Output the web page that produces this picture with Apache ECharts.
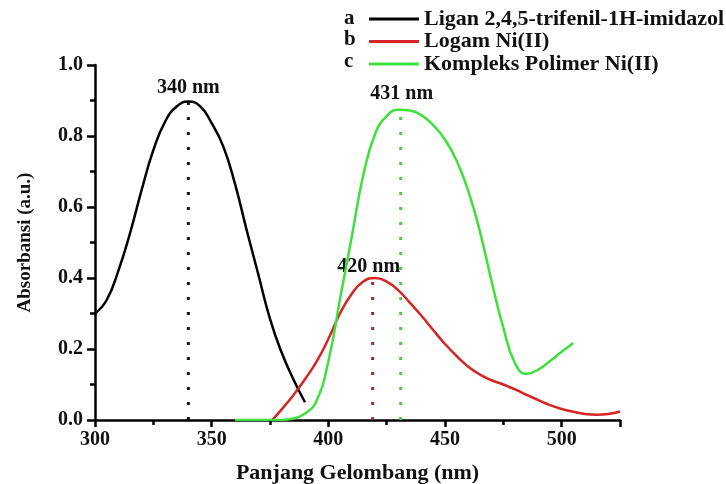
<!DOCTYPE html>
<html>
<head>
<meta charset="utf-8">
<script src="https://cdn.jsdelivr.net/npm/echarts@6/dist/echarts.min.js"></script>
<style>
  html, body { margin: 0; padding: 0; background: #fff; }
  #chart { width: 726px; height: 484px; }
</style>
</head>
<body>
<div id="chart"></div>
<script>
// wavelength (nm) / absorbance
var liganX = [300, 305, 310, 315, 320, 325, 330, 335, 340, 345, 350, 355, 360, 365, 370, 375, 380, 385, 390];
var liganY = [0.30, 0.338, 0.42, 0.526, 0.648, 0.76, 0.84, 0.883, 0.897, 0.884, 0.836, 0.77, 0.665, 0.535, 0.41, 0.285, 0.19, 0.115, 0.05];

var logamX = [376, 380, 385, 390, 395, 400, 405, 410, 415, 420, 425, 430, 435, 440, 445, 450, 455, 460, 465, 470, 475, 480, 485, 490, 495, 500, 505, 510, 515, 520, 525];
var logamY = [0, 0.03, 0.07, 0.115, 0.165, 0.228, 0.30, 0.355, 0.39, 0.40, 0.39, 0.365, 0.33, 0.293, 0.253, 0.214, 0.18, 0.15, 0.128, 0.112, 0.10, 0.086, 0.071, 0.056, 0.042, 0.031, 0.023, 0.017, 0.015, 0.017, 0.024];

var kompleksX = [360, 370, 380, 385, 390, 395, 400, 405, 410, 415, 420, 425, 430, 435, 440, 445, 450, 455, 460, 465, 470, 475, 480, 485, 490, 495, 500, 505];
var kompleksY = [0, 0, 0, 0.004, 0.018, 0.055, 0.165, 0.34, 0.515, 0.69, 0.805, 0.856, 0.874, 0.872, 0.858, 0.83, 0.79, 0.73, 0.645, 0.53, 0.39, 0.26, 0.16, 0.13, 0.142, 0.166, 0.192, 0.217];

// peak markers: wavelength, absorbance, label
var peakX = [340, 419, 431];
var peakY = [0.897, 0.40, 0.875];
var peakText = ['340 nm', '420 nm', '431 nm'];

var names = ['Ligan 2,4,5-trifenil-1H-imidazol', 'Logam Ni(II)', 'Kompleks Polimer Ni(II)'];
var colors = ['#000000', '#d42424', '#3ee03e'];
var dotColors = ['#111111', '#a82838', '#4cc84c'];
var letters = ['a', 'b', 'c'];

function pairs(xs, ys) {
  return xs.map(function (x, i) { return [x, ys[i]]; });
}

var serif = '"Liberation Serif", "DejaVu Serif", serif';
var chart = echarts.init(document.getElementById('chart'));

var curves = [pairs(liganX, liganY), pairs(logamX, logamY), pairs(kompleksX, kompleksY)];
var series = [];
curves.forEach(function (d, i) {
  series.push({
    name: names[i],
    type: 'line',
    data: d,
    smooth: 0.5,
    showSymbol: false,
    lineStyle: { color: colors[i], width: 2.5 },
    itemStyle: { color: colors[i] },
    z: 3
  });
});
var labelDist = [3, 1, 5];
var labelShift = [0, -4, 1];
peakX.forEach(function (x, i) {
  series.push({
    type: 'line',
    data: [[x, 0], {
      value: [x, peakY[i]],
      label: {
        show: true,
        position: 'top',
        distance: labelDist[i],
        offset: [labelShift[i], 0],
        formatter: peakText[i],
        color: '#111',
        fontFamily: serif,
        fontWeight: 'bold',
        fontSize: 20
      }
    }],
    showSymbol: true,
    symbol: 'circle',
    symbolSize: 1,
    itemStyle: { color: 'rgba(0,0,0,0)' },
    lineStyle: { color: dotColors[i], width: 3, type: [3, 12], dashOffset: 0 },
    silent: true,
    z: 2
  });
});

var option = {
  animation: false,
  grid: { left: 95, right: 106, top: 65, bottom: 64, outerBoundsMode: 'none' },
  legend: {
    data: names,
    orient: 'vertical',
    left: 364,
    top: 3,
    itemWidth: 50,
    itemHeight: 3,
    itemGap: 0.5,
    icon: 'rect',
    textStyle: { fontFamily: serif, fontWeight: 'bold', fontSize: 22, color: '#111', lineHeight: 21 }
  },
  graphic: letters.map(function (t, i) {
    return {
      type: 'text',
      left: 344,
      top: 8 + i * 21.5,
      style: { text: t, font: 'bold 21px ' + serif, fill: '#111' }
    };
  }),
  xAxis: {
    type: 'value',
    min: 300,
    max: 525,
    interval: 50,
    name: 'Panjang Gelombang (nm)',
    nameLocation: 'middle',
    nameGap: 42,
    nameTextStyle: { fontFamily: serif, fontWeight: 'bold', fontSize: 22, color: '#111' },
    axisLine: { show: true, onZero: false, lineStyle: { color: '#000', width: 2.5 } },
    axisTick: { show: true, inside: false, length: 7, lineStyle: { color: '#000', width: 2.5 } },
    minorTick: { show: true, splitNumber: 2, length: 5, lineStyle: { color: '#000', width: 2.5 } },
    axisLabel: { fontFamily: serif, fontWeight: 'bold', fontSize: 20, color: '#111', margin: 10, showMaxLabel: false },
    splitLine: { show: false }
  },
  yAxis: {
    type: 'value',
    min: 0,
    max: 1,
    interval: 0.2,
    name: 'Absorbansi (a.u.)',
    nameLocation: 'middle',
    nameGap: 60,
    nameTextStyle: { fontFamily: serif, fontWeight: 'bold', fontSize: 19, color: '#111' },
    axisLine: { show: true, lineStyle: { color: '#000', width: 2.5 } },
    axisTick: { show: true, inside: false, length: 8, lineStyle: { color: '#000', width: 2.5 } },
    minorTick: { show: true, splitNumber: 2, length: 5, lineStyle: { color: '#000', width: 2.5 } },
    axisLabel: {
      fontFamily: serif, fontWeight: 'bold', fontSize: 20, color: '#111', margin: 12,
      formatter: function (v) { return v.toFixed(1); }
    },
    splitLine: { show: false }
  },
  series: series
};

chart.setOption(option);
</script>
</body>
</html>
